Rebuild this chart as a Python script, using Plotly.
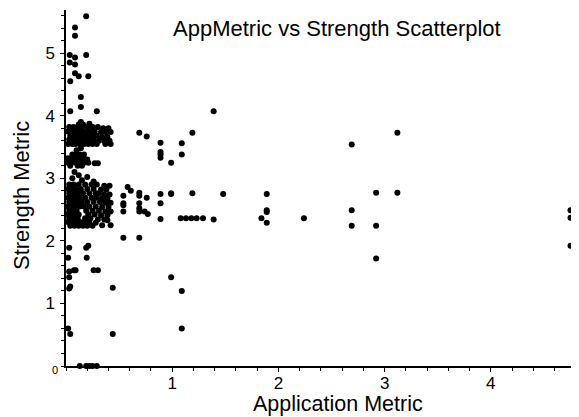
import plotly.graph_objects as go

# ---- data ----
# isolated points at the top of the dense column
top_app = [0.19, 0.085, 0.085, 0.035, 0.085, 0.19, 0.035, 0.085, 0.085, 0.12, 0.21, 0.04,
           0.14, 0.14, 0.04, 0.29, 0.14, 0.22]
top_str = [5.59, 5.41, 5.28, 4.97, 4.93, 4.97, 4.85, 4.82, 4.68, 4.63, 4.63, 4.55,
           4.30, 4.14, 4.07, 4.07, 3.90, 3.87]

# upper dense band (about 3.5 - 3.9)
band_a_app = [0.03, 0.07, 0.11, 0.15, 0.20, 0.25, 0.30, 0.35, 0.40,
              0.02, 0.06, 0.10, 0.13, 0.17, 0.22, 0.27, 0.33, 0.37, 0.42,
              0.04, 0.08, 0.12, 0.16, 0.19, 0.24, 0.29, 0.34, 0.39,
              0.03, 0.07, 0.10, 0.14, 0.18, 0.22, 0.26, 0.31, 0.36, 0.41,
              0.02, 0.06, 0.09, 0.13, 0.17, 0.21, 0.25, 0.29, 0.37, 0.42,
              0.12, 0.16]
band_a_str = [3.82, 3.82, 3.82, 3.82, 3.82, 3.82, 3.82, 3.80, 3.80,
              3.75, 3.75, 3.75, 3.75, 3.75, 3.75, 3.75, 3.74, 3.74, 3.74,
              3.68, 3.68, 3.68, 3.68, 3.68, 3.68, 3.68, 3.66, 3.66,
              3.62, 3.62, 3.62, 3.62, 3.62, 3.62, 3.62, 3.60, 3.60, 3.60,
              3.55, 3.55, 3.55, 3.55, 3.55, 3.55, 3.55, 3.55, 3.55, 3.55,
              3.86, 3.86]

# middle band (about 3.2 - 3.45)
band_b_app = [0.10, 0.14, 0.06, 0.09, 0.13, 0.17, 0.02, 0.05, 0.08, 0.12, 0.16, 0.20,
              0.02, 0.05, 0.09, 0.13, 0.17, 0.21, 0.27, 0.30, 0.04, 0.11, 0.15]
band_b_str = [3.45, 3.48, 3.38, 3.38, 3.38, 3.38, 3.32, 3.32, 3.32, 3.32, 3.32, 3.30,
              3.25, 3.25, 3.25, 3.25, 3.25, 3.25, 3.24, 3.24, 3.20, 3.20, 3.20]

# sparse points between the bands
between_app = [0.08, 0.12, 0.06, 0.15, 0.20, 0.26]
between_str = [3.10, 3.05, 3.00, 2.97, 3.02, 2.95]

# lower dense band (about 2.2 - 2.9)
band_c_app = [0.03, 0.07, 0.12, 0.18, 0.24, 0.29, 0.36, 0.41,
              0.02, 0.05, 0.09, 0.14, 0.20, 0.26, 0.33, 0.38,
              0.03, 0.07, 0.11, 0.16, 0.22, 0.28, 0.31, 0.36, 0.41,
              0.02, 0.05, 0.09, 0.13, 0.18, 0.24, 0.29, 0.34, 0.39,
              0.03, 0.07, 0.11, 0.15, 0.20, 0.26, 0.32, 0.37, 0.42,
              0.02, 0.05, 0.09, 0.13, 0.17, 0.22, 0.28, 0.34, 0.40,
              0.03, 0.06, 0.10, 0.19, 0.25, 0.31, 0.37, 0.42,
              0.02, 0.05, 0.08, 0.12, 0.21, 0.27, 0.33, 0.39,
              0.03, 0.07, 0.11, 0.18, 0.23, 0.30, 0.36,
              0.02, 0.05, 0.09, 0.13, 0.17, 0.22, 0.28, 0.39,
              0.04, 0.08, 0.12, 0.16, 0.20, 0.25, 0.34, 0.42]
band_c_str = [2.90, 2.90, 2.90, 2.90, 2.90, 2.90, 2.88, 2.88,
              2.83, 2.83, 2.83, 2.83, 2.83, 2.83, 2.82, 2.82,
              2.76, 2.76, 2.76, 2.76, 2.76, 2.76, 2.76, 2.74, 2.74,
              2.69, 2.69, 2.69, 2.69, 2.69, 2.69, 2.69, 2.68, 2.68,
              2.62, 2.62, 2.62, 2.62, 2.62, 2.62, 2.62, 2.61, 2.61,
              2.55, 2.55, 2.55, 2.55, 2.55, 2.55, 2.55, 2.54, 2.54,
              2.48, 2.48, 2.48, 2.48, 2.48, 2.48, 2.47, 2.47,
              2.42, 2.42, 2.42, 2.42, 2.42, 2.42, 2.41, 2.41,
              2.36, 2.36, 2.36, 2.36, 2.36, 2.34, 2.34,
              2.30, 2.30, 2.30, 2.30, 2.30, 2.30, 2.29, 2.33,
              2.24, 2.24, 2.24, 2.24, 2.24, 2.24, 2.25, 2.25]

# low points of the dense column
low_app = [0.03, 0.19, 0.21, 0.02, 0.195, 0.03, 0.075, 0.09, 0.26, 0.30, 0.03,
           0.03, 0.04, 0.44, 0.02, 0.04, 0.44,
           0.13, 0.19, 0.22, 0.25, 0.29]
low_str = [1.89, 1.89, 1.92, 1.73, 1.73, 1.51, 1.53, 1.53, 1.53, 1.53, 1.42,
           1.24, 1.27, 1.25, 0.60, 0.51, 0.51,
           0.0, 0.0, 0.0, 0.0, 0.0]

# points away from the dense column
outer_app = [0.54, 0.54, 0.54, 0.54, 0.54, 0.58, 0.61, 0.69, 0.69, 0.69, 0.69, 0.69, 0.69,
             0.74, 0.77, 0.76, 0.69, 0.76, 0.89, 0.89, 0.89, 0.89, 0.89, 0.89, 0.89,
             0.99, 0.99, 1.09, 1.09, 1.19, 1.39, 0.99, 1.19,
             1.08, 1.13, 1.18, 1.23, 1.29, 1.39, 0.99, 1.09, 1.09,
             1.48, 1.84, 1.89, 1.89, 1.89, 1.89, 2.24,
             2.69, 2.69, 2.69, 2.92, 2.92, 2.92, 3.12, 3.12,
             4.75, 4.75, 4.75]
outer_str = [2.72, 2.60, 2.47, 2.05, 2.57, 2.86, 2.80, 2.77, 2.72, 2.60, 2.47, 2.05, 3.73,
             2.47, 2.43, 2.69, 2.52, 3.67, 3.57, 3.42, 3.38, 3.33, 2.75, 2.60, 2.35,
             3.25, 2.75, 3.56, 3.38, 3.73, 4.07, 2.76, 2.76,
             2.36, 2.36, 2.36, 2.36, 2.36, 2.34, 1.42, 1.20, 0.60,
             2.75, 2.36, 2.75, 2.49, 2.46, 2.29, 2.36,
             3.54, 2.49, 2.24, 2.77, 2.24, 1.72, 3.73, 2.77,
             2.49, 2.37, 1.92]

app_metric = top_app + band_a_app + band_b_app + between_app + band_c_app + low_app + outer_app
strength_metric = top_str + band_a_str + band_b_str + between_str + band_c_str + low_str + outer_str

x_ticks = [1, 2, 3, 4]
y_ticks = [1, 2, 3, 4, 5]

FONT = "Liberation Sans, Arial, Helvetica, sans-serif"

fig = go.Figure(go.Scatter(
    x=app_metric, y=strength_metric, mode="markers",
    marker=dict(color="black", size=6, line=dict(width=0)),
    cliponaxis=False, hoverinfo="x+y",
))

axis_common = dict(
    showline=True, linecolor="black", linewidth=1.5, showgrid=False, zeroline=False,
    ticks="outside", ticklen=4, tickcolor="black", tickwidth=1,
    tickfont=dict(family=FONT, size=17, color="black"),
    minor=dict(ticks="outside", ticklen=3, dtick=0.2, tickcolor="black", tickwidth=1, showgrid=False),
)

# the page body has an 8px margin, so the figure is made 8px smaller on each side
fig.update_layout(
    width=571, height=409,
    margin=dict(l=58, r=0, t=2, b=51),
    paper_bgcolor="white", plot_bgcolor="white",
    showlegend=False,
    xaxis=dict(range=[0, 4.83], tickvals=x_ticks, ticktext=[str(v) for v in x_ticks],
               ticklabelstandoff=-3, **axis_common),
    yaxis=dict(range=[0, 5.69], tickvals=y_ticks, ticktext=[str(v) for v in y_ticks],
               ticklabelstandoff=2, **axis_common),
    annotations=[
        dict(text="AppMetric vs Strength Scatterplot", xref="paper", yref="paper",
             x=(337 - 66) / 513, y=1 - (29 - 10) / 356, xanchor="center", yanchor="middle",
             showarrow=False, font=dict(family=FONT, size=22, color="black")),
        dict(text="Application Metric", xref="paper", yref="paper",
             x=(338 - 66) / 513, y=-(403.5 - 366) / 356, xanchor="center", yanchor="middle",
             showarrow=False, font=dict(family=FONT, size=21.5, color="black")),
        dict(text="Strength Metric", xref="paper", yref="paper",
             x=-(66 - 21) / 513, y=(366 - 196) / 356, xanchor="center", yanchor="middle",
             textangle=-90, showarrow=False, font=dict(family=FONT, size=22, color="black")),
        dict(text="0", xref="paper", yref="paper",
             x=-(66 - 55) / 513, y=-(370 - 366) / 356, xanchor="center", yanchor="middle",
             showarrow=False, font=dict(family=FONT, size=11, color="black")),
    ],
)

fig.write_html("out.html")
